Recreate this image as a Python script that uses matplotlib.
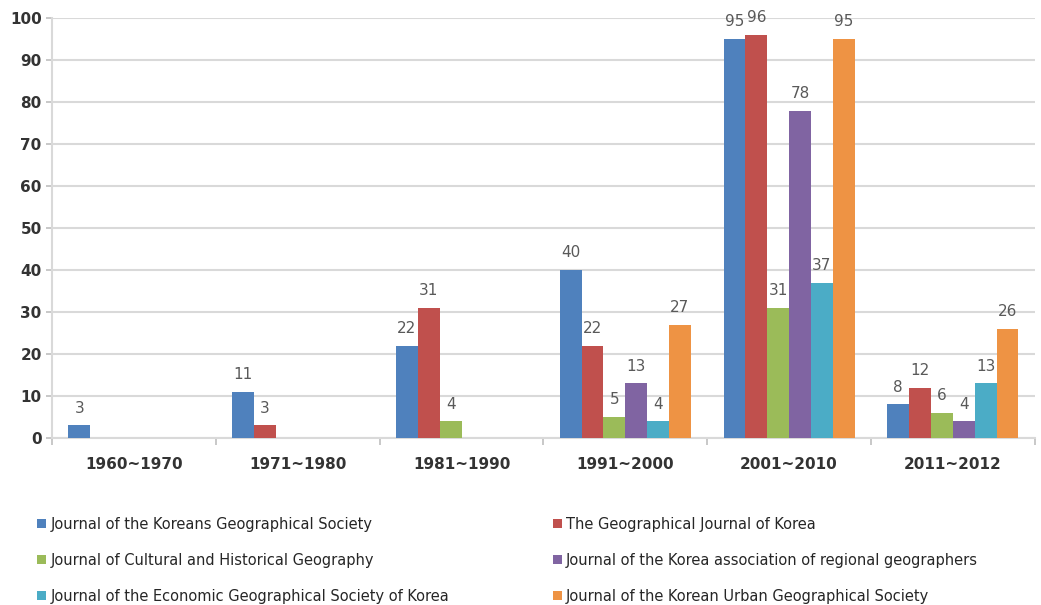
import matplotlib.pyplot as plt
import numpy as np

periods = ["1960~1970", "1971~1980", "1981~1990", "1991~2000", "2001~2010", "2011~2012"]
journals = [
    "Journal of the Koreans Geographical Society",
    "The Geographical Journal of Korea",
    "Journal of Cultural and Historical Geography",
    "Journal of the Korea association of regional geographers",
    "Journal of the Economic Geographical Society of Korea",
    "Journal of the Korean Urban Geographical Society",
]
koreans_geo = [3, 11, 22, 40, 95, 8]
geo_journal = [0, 3, 31, 22, 96, 12]
cultural_hist = [0, 0, 4, 5, 31, 6]
regional_geo = [0, 0, 0, 13, 78, 4]
economic_geo = [0, 0, 0, 4, 37, 13]
urban_geo = [0, 0, 0, 27, 95, 26]

series = [koreans_geo, geo_journal, cultural_hist, regional_geo, economic_geo, urban_geo]
colors = ["#4F81BD", "#C0504D", "#9BBB59", "#8064A2", "#4BACC6", "#EE9344"]

fig = plt.figure(figsize=(10.41, 6.05), dpi=100)
ax = fig.add_axes([0.05, 0.276, 0.944, 0.694])

x = np.arange(len(periods))
width = 0.8 / len(series)
handles = []
for i, (vals, col) in enumerate(zip(series, colors)):
    pos = x - 0.4 + width * (i + 0.5)
    bars = ax.bar(pos, vals, width, color=col, zorder=3)
    handles.append(bars)
    for xp, v in zip(pos, vals):
        if v > 0:
            ax.annotate(str(v), (xp, v), xytext=(0, 7), textcoords="offset points",
                        ha="center", va="bottom", fontsize=11, color="#595959")

ax.set_xlim(-0.5, len(periods) - 0.5)
ax.set_ylim(0, 100)
ax.set_yticks(range(0, 101, 10))
ax.set_xticks(x)
ax.set_xticklabels(periods, fontsize=11, fontweight="bold", color="#333333")
ax.set_xticks(np.arange(-0.5, len(periods), 1), minor=True)
ax.tick_params(axis="x", which="major", length=0, pad=14)
ax.tick_params(axis="x", which="minor", length=5, color="#BFBFBF", width=1.2)
ax.tick_params(axis="y", length=4, color="#BFBFBF", width=1.2, labelsize=11)
for lbl in ax.get_yticklabels():
    lbl.set_fontweight("bold")
    lbl.set_color("#333333")

ax.grid(axis="y", color="#D9D9D9", linewidth=1.5, zorder=0)
ax.set_axisbelow(True)
for s in ["top", "right"]:
    ax.spines[s].set_visible(False)
for s in ["left", "bottom"]:
    ax.spines[s].set_color("#D9D9D9")
    ax.spines[s].set_linewidth(1.5)

# legend in two columns, filled row by row like the original
leg_kw = dict(loc="upper left", frameon=False, fontsize=10.5, handlelength=0.6,
              handleheight=0.6, handletextpad=0.3, labelspacing=1.45,
              borderpad=0, borderaxespad=0, labelcolor="#262626")
fig.legend([handles[0], handles[2], handles[4]],
           [journals[0], journals[2], journals[4]],
           bbox_to_anchor=(0.036, 0.146), **leg_kw)
fig.legend([handles[1], handles[3], handles[5]],
           [journals[1], journals[3], journals[5]],
           bbox_to_anchor=(0.531, 0.146), **leg_kw)

plt.savefig("out.png", dpi=100)
